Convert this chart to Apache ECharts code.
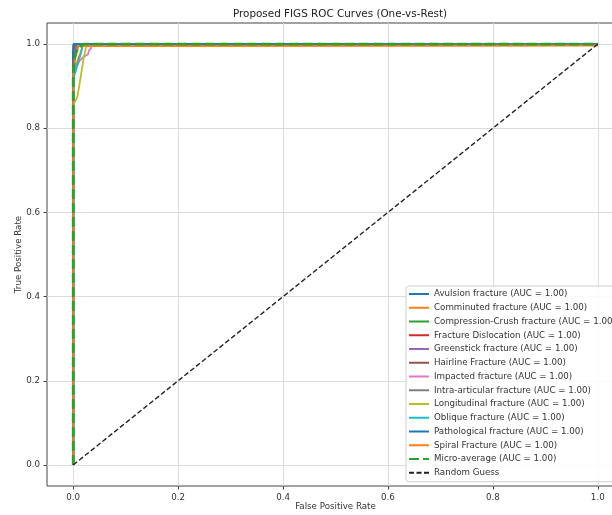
<!doctype html>
<html>
<head>
<meta charset="utf-8">
<title>Proposed FIGS ROC Curves</title>
<script src="https://cdn.jsdelivr.net/npm/echarts@6/dist/echarts.min.js"></script>
<style>
  html, body { margin: 0; padding: 0; background: #fff; }
  #main { width: 612px; height: 515px; }
</style>
</head>
<body>
<div id="main"></div>
<script>
var chart = echarts.init(document.getElementById('main'));

// tick positions on both axes
var ticks = [0, 0.2, 0.4, 0.6, 0.8, 1.0];

// class names and AUC values as printed in the legend
var classNames = [
    'Avulsion fracture', 'Comminuted fracture', 'Compression-Crush fracture',
    'Fracture Dislocation', 'Greenstick fracture', 'Hairline Fracture',
    'Impacted fracture', 'Intra-articular fracture', 'Longitudinal fracture',
    'Oblique fracture', 'Pathological fracture', 'Spiral Fracture'
];
var classAuc = [1.00, 1.00, 1.00, 1.00, 1.00, 1.00, 1.00, 1.00, 1.00, 1.00, 1.00, 1.00];
var microAuc = 1.00;

// ROC points [fpr, tpr]
var avulsion = [[0, 0], [0, 0.97], [0.002, 1], [1, 1]];
var comminuted = [[0, 0], [0, 0.92], [0.008, 0.96], [0.014, 0.98], [0.018, 0.995], [1, 0.997]];
var compression = [[0, 0], [0, 0.96], [0.006, 1], [1, 1]];
var dislocation = [[0, 0], [0, 0.98], [0.003, 1], [1, 1]];
var greenstick = [[0, 0], [0, 0.97], [0.004, 0.99], [0.01, 1], [1, 1]];
var hairline = [[0, 0], [0, 0.99], [0.002, 1], [1, 1]];
var impacted = [[0, 0], [0, 0.93], [0.012, 0.96], [0.02, 0.97], [0.028, 0.975], [0.03, 0.985], [0.034, 0.99], [0.036, 1], [1, 1]];
var intraArticular = [[0, 0], [0, 0.92], [0.004, 0.97], [0.008, 1], [1, 1]];
var longitudinal = [[0, 0], [0, 0.83], [0.002, 0.86], [0.008, 0.875], [0.014, 0.92], [0.02, 0.967], [0.024, 0.99], [0.027, 1], [1, 1]];
var oblique = [[0, 0], [0, 0.9], [0.001, 0.92], [0.008, 0.95], [0.014, 0.975], [0.017, 0.99], [0.02, 1], [1, 1]];
var pathological = [[0, 0], [0, 1], [1, 1]];
var spiral = [[0, 0], [0, 0.94], [0.004, 0.97], [0.01, 0.995], [1, 0.997]];
var microAverage = [[0, 0], [0, 0.93], [0.003, 0.97], [0.008, 0.99], [0.02, 1], [1, 1]];
var randomGuess = [[0, 0], [1, 1]];

var classCurves = [avulsion, comminuted, compression, dislocation, greenstick, hairline,
    impacted, intraArticular, longitudinal, oblique, pathological, spiral];

var palette = ['#1f77b4', '#ff7f0e', '#2ca02c', '#d62728', '#9467bd', '#8c564b',
    '#e377c2', '#7f7f7f', '#bcbd22', '#17becf', '#1f77b4', '#ff7f0e'];

var font = 'DejaVu Sans';

var series = classCurves.map(function (pts, i) {
    return {
        name: classNames[i] + ' (AUC = ' + classAuc[i].toFixed(2) + ')',
        type: 'line',
        data: pts,
        symbol: 'none',
        color: palette[i],
        lineStyle: { width: 1.8, color: palette[i] }
    };
});
series.push({
    name: 'Micro-average (AUC = ' + microAuc.toFixed(2) + ')',
    type: 'line',
    data: microAverage,
    symbol: 'none',
    color: '#2ca02c',
    lineStyle: { width: 2.8, color: '#2ca02c', type: [10, 4] }
});
series.push({
    name: 'Random Guess',
    type: 'line',
    data: randomGuess,
    symbol: 'none',
    color: '#222',
    lineStyle: { width: 1.4, color: '#222', type: [5, 2.5] }
});

function axis(name, nameGap, rotate) {
    return {
        type: 'value',
        min: -0.05,
        max: 1.05,
        name: name,
        nameLocation: 'middle',
        nameGap: nameGap,
        nameRotate: rotate,
        nameMoveOverlap: false,
        nameTextStyle: { fontFamily: font, fontSize: 8.7, color: '#333' },
        axisLine: { show: false, onZero: false },
        axisTick: {
            show: true, inside: false, length: 3.5,
            customValues: ticks,
            lineStyle: { color: '#444' }
        },
        axisLabel: {
            customValues: ticks,
            margin: 7,
            fontFamily: font, fontSize: 8.7, color: '#333',
            formatter: function (v) { return v.toFixed(1); }
        },
        splitLine: { show: true, lineStyle: { color: '#dcdcdc', width: 1 } }
    };
}

chart.setOption({
    animation: false,
    backgroundColor: '#fff',
    title: {
        text: 'Proposed FIGS ROC Curves (One-vs-Rest)',
        left: 335, textAlign: 'center',
        top: 4,
        textStyle: { fontFamily: font, fontSize: 10.4, fontWeight: 'normal', color: '#222' }
    },
    grid: {
        left: 47, top: 23, width: 577, height: 463,
        show: true, borderColor: '#444', borderWidth: 1,
        containLabel: false,
        outerBoundsMode: 'none'
    },
    xAxis: axis('False Positive Rate', 16, 0),
    yAxis: axis('True Positive Rate', 24, 90),
    legend: {
        orient: 'vertical',
        left: 406, top: 286,
        padding: [2, 8, 3, 2],
        itemWidth: 20, itemHeight: 12, itemGap: 1.75,
        backgroundColor: 'rgba(255,255,255,0.85)',
        borderColor: '#d0d0d0', borderWidth: 1, borderRadius: 3,
        selectedMode: false,
        itemStyle: { opacity: 0, borderWidth: 0 },
        textStyle: { fontFamily: font, fontSize: 8.7, color: '#333', lineHeight: 12 }
    },
    series: series
});
</script>
</body>
</html>
